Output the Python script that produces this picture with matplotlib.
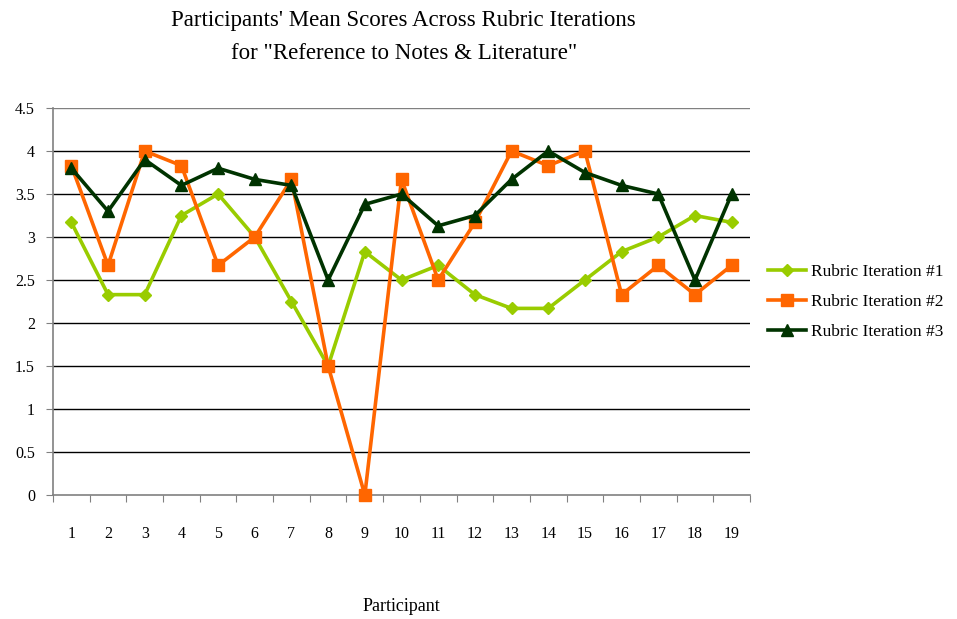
import numpy as np
import matplotlib.pyplot as plt

participants = list(range(1, 20))
iteration1 = [3.17, 2.33, 2.33, 3.25, 3.5, 3.0, 2.25, 1.5, 2.83, 2.5,
              2.67, 2.33, 2.17, 2.17, 2.5, 2.83, 3.0, 3.25, 3.17]
iteration2 = [3.83, 2.67, 4.0, 3.83, 2.67, 3.0, 3.67, 1.5, 0.0, 3.67,
              2.5, 3.17, 4.0, 3.83, 4.0, 2.33, 2.67, 2.33, 2.67]
iteration3 = [3.8, 3.3, 3.9, 3.6, 3.8, 3.67, 3.6, 2.5, 3.38, 3.5,
              3.13, 3.25, 3.67, 4.0, 3.75, 3.6, 3.5, 2.5, 3.5]
series_names = ['Rubric Iteration #1', 'Rubric Iteration #2', 'Rubric Iteration #3']
y_ticks = [0, 0.5, 1, 1.5, 2, 2.5, 3, 3.5, 4, 4.5]

plt.rcParams['font.family'] = ['Liberation Serif', 'DejaVu Serif']

fig = plt.figure(figsize=(9.57, 6.19), dpi=100)
ax = fig.add_axes([0.0554, 0.2003, 0.7283, 0.6252])

x = np.arange(len(participants))
ax.plot(x, iteration1, color='#99CC00', lw=2.6, marker='D', markersize=6.5,
        label=series_names[0], clip_on=False, zorder=3)
ax.plot(x, iteration2, color='#FF6600', lw=2.6, marker='s', markersize=8.5,
        label=series_names[1], clip_on=False, zorder=4)
ax.plot(x, iteration3, color='#003300', lw=2.6, marker='^', markersize=8.5,
        label=series_names[2], clip_on=False, zorder=5)

ax.set_xlim(-0.5, len(participants) - 0.5)
ax.set_ylim(0, 4.5)
ax.set_yticks(y_ticks)
ax.set_yticklabels([f'{v:g}' for v in y_ticks], fontsize=11.5)
for v in y_ticks[1:]:
    ax.axhline(v, color='black' if v < 4.5 else '#808080', lw=1, zorder=1)

ax.set_xticks(np.arange(-0.5, len(participants), 1.0))
ax.set_xticklabels([])
ax.set_xticks(x, minor=True)
ax.set_xticklabels([str(p) for p in participants], minor=True, fontsize=11.5)
ax.tick_params(axis='x', which='major', direction='out', length=5, color='#808080')
ax.tick_params(axis='x', which='minor', length=0, pad=22)
ax.tick_params(axis='y', direction='out', length=5, color='#808080', pad=8)

for side in ['top', 'right']:
    ax.spines[side].set_visible(False)
for side in ['left', 'bottom']:
    ax.spines[side].set_color('#808080')
    ax.spines[side].set_linewidth(1.2)

fig.text(0.419, 0.021, 'Participant', ha='center', va='center', fontsize=13)
fig.text(0.422, 0.967, "Participants' Mean Scores Across Rubric Iterations",
         ha='center', va='center', fontsize=16.5)
fig.text(0.422, 0.914, 'for "Reference to Notes & Literature"',
         ha='center', va='center', fontsize=16.5)

fig.legend(loc='center left', bbox_to_anchor=(0.795, 0.512), borderaxespad=0,
           frameon=False, fontsize=12.5, handlelength=2.2, handletextpad=0.3,
           labelspacing=0.8)

fig.savefig('out.png', dpi=100)
